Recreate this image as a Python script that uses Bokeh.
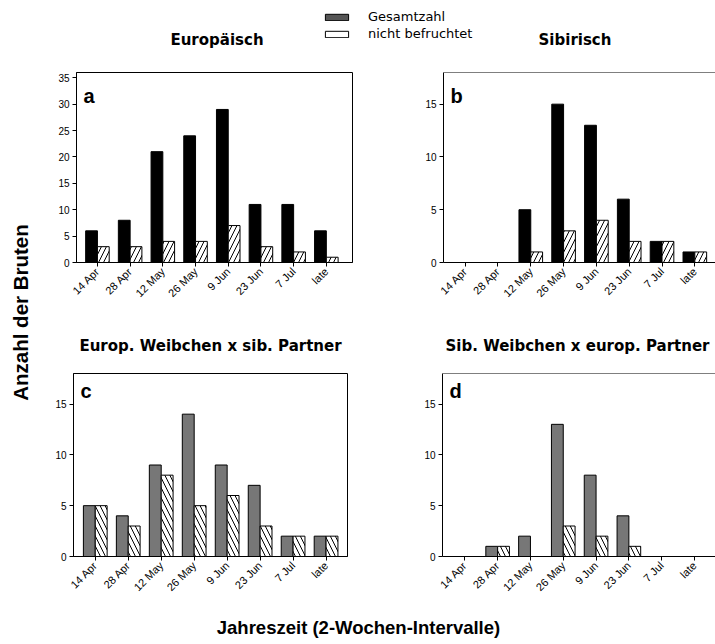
from math import pi
from bokeh.plotting import figure
from bokeh.layouts import row, column
from bokeh.models import (Range1d, FixedTicker, Label, Span, Legend, LegendItem,
                          ColumnDataSource)
from bokeh.transform import dodge
from bokeh.core.properties import value
from bokeh.embed import file_html
from bokeh.resources import INLINE

# ---------------- data ----------------
categories = ["14 Apr", "28 Apr", "12 May", "26 May", "9 Jun", "23 Jun", "7 Jul", "late"]
a_total = [6, 8, 21, 24, 29, 11, 11, 6]
a_unfert = [3, 3, 4, 4, 7, 3, 2, 1]
b_total = [0, 0, 5, 15, 13, 6, 2, 1]
b_unfert = [0, 0, 1, 3, 4, 2, 2, 1]
c_total = [5, 4, 9, 14, 9, 7, 2, 2]
c_unfert = [5, 3, 8, 5, 6, 3, 2, 2]
d_total = [0, 1, 2, 13, 8, 4, 0, 0]
d_unfert = [0, 1, 0, 3, 2, 1, 0, 0]
y_ticks_a = [0, 5, 10, 15, 20, 25, 30, 35]
y_ticks_small = [0, 5, 10, 15]
series_labels = ["Gesamtzahl", "nicht befruchtet"]
top_titles = ["Europäisch", "Sibirisch"]
mid_titles = ["Europ. Weibchen x sib. Partner", "Sib. Weibchen x europ. Partner"]
y_label = "Anzahl der Bruten"
x_label = "Jahreszeit (2-Wochen-Intervalle)"

SANS = "Liberation Sans"
WIDE = "DejaVu Sans"
TOTAL_FILL_TOP = "black"
TOTAL_FILL_BOTTOM = "#777777"


def strip(w, h):
    f = figure(width=w, height=h, x_range=Range1d(0, w), y_range=Range1d(0, h),
               output_backend="svg", toolbar_location=None, min_border=0,
               x_axis_location=None, y_axis_location=None)
    f.xgrid.visible = False
    f.ygrid.visible = False
    f.outline_line_color = None
    return f


def panel(total, unfert, letter, w, h, mbl, mbr, mbt, mbb, xr, ymax, yticks,
          fill, hatch, outline):
    p = figure(width=w, height=h, x_range=Range1d(*xr), y_range=Range1d(0, ymax),
               output_backend="svg", toolbar_location=None,
               min_border_left=mbl, min_border_right=mbr,
               min_border_top=mbt, min_border_bottom=mbb)
    idx = list(range(len(categories)))
    src = ColumnDataSource(dict(x=idx, total=total, unfert=unfert))
    p.vbar(x=dodge("x", -0.18, range=p.x_range), top="total", width=0.36,
           source=src, fill_color=fill, line_color="black", line_width=1)
    p.vbar(x=dodge("x", 0.18, range=p.x_range), top="unfert", width=0.36,
           source=src, fill_color="white", line_color="black", line_width=1,
           hatch_pattern=hatch, hatch_color="black", hatch_scale=10,
           hatch_weight=1)
    p.xgrid.visible = False
    p.ygrid.visible = False
    p.xaxis.ticker = FixedTicker(ticks=idx)
    p.xaxis.major_label_overrides = {i: c for i, c in enumerate(categories)}
    p.xaxis.major_label_orientation = pi / 4
    p.yaxis.ticker = FixedTicker(ticks=yticks)
    for ax in (p.xaxis[0], p.yaxis[0]):
        ax.axis_line_color = "black"
        ax.major_tick_line_color = "black"
        ax.minor_tick_line_color = None
        ax.major_tick_in = 0
        ax.major_tick_out = 4
        ax.major_label_text_color = "black"
        ax.major_label_text_font = SANS
        ax.major_label_standoff = 3
    p.xaxis.major_label_text_font_size = "11px"
    p.yaxis.major_label_text_font_size = "10px"
    if outline:
        p.outline_line_color = "black"
        p.outline_line_alpha = 1
    else:
        p.outline_line_color = None
        p.add_layout(Span(location=ymax, dimension="width", line_color="black",
                          line_width=1))
    fh = h - mbt - mbb
    p.add_layout(Label(x=7, y=fh - 23, x_units="screen", y_units="screen",
                       text=letter, text_font=SANS, text_font_style="bold",
                       text_font_size="20px", text_baseline="alphabetic",
                       text_color="black"))
    return p


# header with legend and group titles
header = strip(675, 52)
# legend proxies (zero-height, far outside the visible range)
r1 = header.vbar(x=[-5000], top=[0], width=1, fill_color="#555555", line_color="black")
r2 = header.vbar(x=[-5000], top=[0], width=1, fill_color="white", line_color="black")
legend = Legend(items=[LegendItem(label=series_labels[0], renderers=[r1]),
                       LegendItem(label=series_labels[1], renderers=[r2])],
                location=(282, 11), glyph_width=29, glyph_height=8,
                label_standoff=17, label_text_font=WIDE,
                label_text_font_size="13px", label_text_color="black",
                label_height=14, spacing=2,
                padding=0, margin=0, border_line_color=None,
                background_fill_alpha=0)
header.add_layout(legend)
header.text(x=[176.5, 534.5], y=[13, 13], text=top_titles, text_align="center",
            text_baseline="middle", text_font=value(WIDE), text_font_style="bold",
            text_font_size="15px", text_color="black")

pa = panel(a_total, a_unfert, "a", 355, 266, 36, 43, 20, 56, (-0.64, 7.80), 36,
           y_ticks_a, TOTAL_FILL_TOP, "/", True)
pb = panel(b_total, b_unfert, "b", 320, 266, 48, 0, 20, 56, (-0.66, 7.63), 18,
           y_ticks_small, TOTAL_FILL_TOP, "/", False)

mid = strip(675, 44)
mid.text(x=[170, 537], y=[16.5, 16.5], text=mid_titles, text_align="center",
         text_baseline="middle", text_font=value(WIDE), text_font_style="bold",
         text_font_size="15px", text_color="black")

pc = panel(c_total, c_unfert, "c", 355, 238, 33, 48, 11, 38, (-0.66, 7.65), 18,
           y_ticks_small, TOTAL_FILL_BOTTOM, "\\", True)
pd = panel(d_total, d_unfert, "d", 320, 238, 47, 0, 11, 38, (-0.68, 7.64), 18,
           y_ticks_small, TOTAL_FILL_BOTTOM, "\\", False)

ylab = strip(40, 600)
ylab.text(x=[20], y=[288], text=[y_label], angle=pi / 2, text_align="center",
          text_baseline="middle", text_font=value(SANS), text_font_style="bold",
          text_font_size="20.5px", text_color="black")

xlab = strip(715, 44)
xlab.text(x=[358], y=[17], text=[x_label], text_align="center",
          text_baseline="middle", text_font=value(SANS), text_font_style="bold",
          text_font_size="18.5px", text_color="black")

layout = column(row(ylab, column(header, row(pa, pb), mid, row(pc, pd))), xlab)

open("out.html", "w").write(file_html(layout, INLINE))
